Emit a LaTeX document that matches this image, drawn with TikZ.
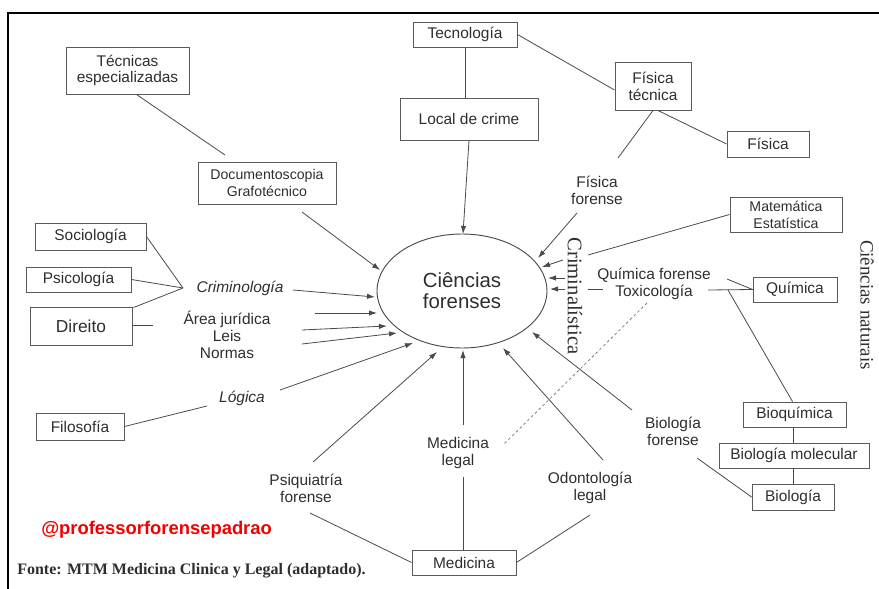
\documentclass[tikz,border=0pt]{standalone}
\usepackage{fontspec}
\setmainfont{Liberation Serif}
\setsansfont{Liberation Sans}
\usetikzlibrary{arrows.meta,shapes.geometric,calc}
\definecolor{ink}{HTML}{2E2E2E}
\definecolor{lin}{HTML}{4A4A4A}
\definecolor{bdr}{HTML}{5A5A5A}
\definecolor{tagred}{HTML}{F00000}
\begin{document}
\begin{tikzpicture}[x=0.75pt,y=-0.75pt,
  box/.style={draw=bdr,line width=0.7pt,inner sep=0pt,align=center,text=ink,font=\sffamily\fontsize{11.6}{12.6}\selectfont},
  lbl/.style={inner sep=0pt,align=center,text=ink,font=\sffamily\fontsize{11.6}{12.6}\selectfont},
  conn/.style={draw=lin,line width=0.6pt},
  arr/.style={conn,-{Latex[length=6pt,width=4pt]}},
  dotl/.style={draw=lin!70,line width=0.6pt,dash pattern=on 2pt off 2pt},
]
\useasboundingbox (0,0) rectangle (879,589);
% frame
\draw[line width=1.5pt,black] (8,589) -- (8,13) -- (879,13);

% central ellipse
\node[draw=lin,line width=0.7pt,ellipse,minimum width=127.5pt,minimum height=85.5pt,inner sep=0pt,align=center,text=ink,font=\sffamily\fontsize{15.3}{15.5}\selectfont] (ell) at (462,291) {Ciências\\forenses};

% boxes
\node[box,minimum width=78pt,minimum height=18.75pt] (tec) at (465,34.5) {Tecnología};
\node[box,minimum width=103.5pt,minimum height=31.5pt] (loc) at (469,119) {Local de crime};
\node[box,minimum width=92.25pt,minimum height=35.25pt] (tesp) at (127.5,70.5) {Técnicas\\especializadas};
\node[box,minimum width=103.5pt,minimum height=31.5pt,font=\sffamily\fontsize{10.6}{12.6}\selectfont] (doc) at (267,183) {Documentoscopia\\Grafotécnico};
\node[box,minimum width=57pt,minimum height=36pt] (ftec) at (653,86) {Física\\técnica};
\node[box,minimum width=61.5pt,minimum height=19.5pt] (fis) at (768,144) {Física};
\node[box,minimum width=84pt,minimum height=26.25pt,font=\sffamily\fontsize{10.6}{12.6}\selectfont] (mat) at (786,214.5) {Matemática\\Estatística};
\node[box,minimum width=83.25pt,minimum height=20.25pt] (soc) at (90.5,236.5) {Sociología};
\node[box,minimum width=78.75pt,minimum height=18.75pt] (psi) at (78.5,279.5) {Psicología};
\node[box,minimum width=76.5pt,minimum height=28.5pt,font=\sffamily\fontsize{13}{14}\selectfont] (dir) at (81,326) {Direito};
\node[box,minimum width=66pt,minimum height=20.25pt] (filo) at (80,426.5) {Filosofía};
\node[box,minimum width=63pt,minimum height=18.75pt] (qui) at (795,289.5) {Química};
\node[box,minimum width=77.25pt,minimum height=18.75pt] (bioq) at (794.5,414.5) {Bioquímica};
\node[box,minimum width=112.5pt,minimum height=18.75pt] (biom) at (794,455.5) {Biología molecular};
\node[box,minimum width=61.5pt,minimum height=19.5pt] (bio) at (793,497) {Biología};
\node[box,minimum width=78pt,minimum height=18.75pt] (med) at (464,562.5) {Medicina};

% labels
\node[lbl] (ff) at (597,190) {Física\\forense};
\node[lbl,font=\sffamily\itshape\fontsize{11.6}{12.6}\selectfont] (crimi) at (240,288) {Criminología};
\node[lbl] (aj) at (227,335) {Área jurídica\\Leis\\Normas};
\node[lbl,font=\sffamily\itshape\fontsize{11.6}{12.6}\selectfont] (log) at (242,398) {Lógica};
\node[lbl] (qf) at (654,284) {Química forense\\Toxicología};
\node[lbl] (bf) at (673,431) {Biología\\forense};
\node[lbl] (ml) at (458,453) {Medicina\\legal};
\node[lbl] (ol) at (590,488) {Odontología\\legal};
\node[lbl] (pf) at (306,488) {Psiquiatría\\forense};
\node[rotate=-90,inner sep=0pt,text=ink,font=\rmfamily\fontsize{15.5}{16}\selectfont] (crim) at (575,296) {Criminalística};
\node[rotate=-90,inner sep=0pt,text=ink,font=\rmfamily\fontsize{14.2}{15}\selectfont] (cn) at (867,305) {Ciências naturais};
\node[anchor=west,inner sep=0pt,text=tagred,font=\sffamily\bfseries\fontsize{13.8}{15}\selectfont] (tag) at (41,530) {@professorforensepadrao};
\node[anchor=west,inner sep=0pt,text=ink,font=\rmfamily\bfseries\fontsize{12}{14}\selectfont] (src) at (17,571) {Fonte: MTM Medicina Clinica y Legal (adaptado).};

% free ends
\coordinate (tLoc) at (463,234);
\coordinate (ffTop) at (618,158);
\coordinate (ffA) at (577,213);
\coordinate (ffT) at (538,258);
\coordinate (matE) at (588,255);
\coordinate (mA) at (563,260);
\coordinate (mT) at (542,267);
\coordinate (qA) at (565,278);
\coordinate (qT) at (548,278);
\coordinate (tA) at (565,289);
\coordinate (tT) at (550,289);
\coordinate (tL1) at (588,289);
\coordinate (tL2) at (603,289);
\coordinate (qR1) at (727,279);
\coordinate (qR2) at (708,290);
\coordinate (qB) at (728,290);
\coordinate (bfE) at (697,458);
\coordinate (bfA) at (632,410);
\coordinate (bfT) at (532,332);
\coordinate (olA) at (603,460);
\coordinate (olT) at (503,348);
\coordinate (olB) at (590,515);
\coordinate (mlA) at (463,425);
\coordinate (mlT) at (463,350);
\coordinate (mlB) at (463,477);
\coordinate (dS) at (647,303);
\coordinate (dE) at (503,445);
\coordinate (pfA) at (313,462);
\coordinate (pfT) at (437,352);
\coordinate (pfB) at (310,513);
\coordinate (lgA) at (280,390);
\coordinate (lgT) at (413,343);
\coordinate (lgL) at (207,406);
\coordinate (a1A) at (315,313);
\coordinate (a1T) at (377,313);
\coordinate (a2A) at (302,330);
\coordinate (a2T) at (387,326);
\coordinate (a3A) at (302,344);
\coordinate (a3T) at (397,333);
\coordinate (crA) at (293,290);
\coordinate (crT) at (375,297);
\coordinate (dcA) at (302,212);
\coordinate (dcT) at (380,270);
\coordinate (teE) at (225,155);
\coordinate (conv) at (183,288);
\coordinate (dirE) at (153,325);

% connectors (top)
\draw[conn] (tec.south) -- (tec.south |- loc.north);
\draw[arr] (loc.south) -- (tLoc);
\draw[conn] (tec.east) -- ($(ftec.west)+(0,4)$);
\draw[conn] ($(ftec.south)+(5,0)$) -- (fis.west);
\draw[conn] (ftec.south) -- (ffTop);
\draw[arr] (ffA) -- (ffT);
\draw[conn] (mat.west) -- (matE);
\draw[arr] (mA) -- (mT);
\draw[arr] (qA) -- (qT);
\draw[arr] (tA) -- (tT);
\draw[conn] (tL1) -- (tL2);
\draw[conn] (qR1) -- (qui.west) -- (qR2);
\draw[conn] (qB) -- ($(bioq.north)+(-2,0)$);
\draw[conn] ($(bioq.south)+(-1.5,0)$) -- ($(biom.north)+(-1,0)$);
\draw[conn] ($(biom.south)+(-1,0)$) -- (bio.north);
\draw[conn] (bio.west) -- (bfE);
\draw[arr] (bfA) -- (bfT);
\draw[arr] (olA) -- (olT);
\draw[conn] (olB) -- (med.east);
\draw[arr] (mlA) -- (mlT);
\draw[conn] (mlB) -- (mlB |- med.north);
\draw[dotl] (dS) -- (dE);
\draw[arr] (pfA) -- (pfT);
\draw[conn] (pfB) -- (med.west);
\draw[arr] (lgA) -- (lgT);
\draw[conn] (filo.east) -- (lgL);
\draw[arr] (a1A) -- (a1T);
\draw[arr] (a2A) -- (a2T);
\draw[arr] (a3A) -- (a3T);
\draw[arr] (crA) -- (crT);
\draw[arr] (dcA) -- (dcT);
\draw[conn] ($(tesp.south)+(9,0)$) -- (teE);
\draw[conn] (soc.east) -- (conv);
\draw[conn] (psi.east) -- (conv);
\draw[conn] ($(dir.north east)+(1,1)$) -- (conv);
\draw[conn] ($(dir.east)+(0,-1)$) -- (dirE);
\end{tikzpicture}
\end{document}
